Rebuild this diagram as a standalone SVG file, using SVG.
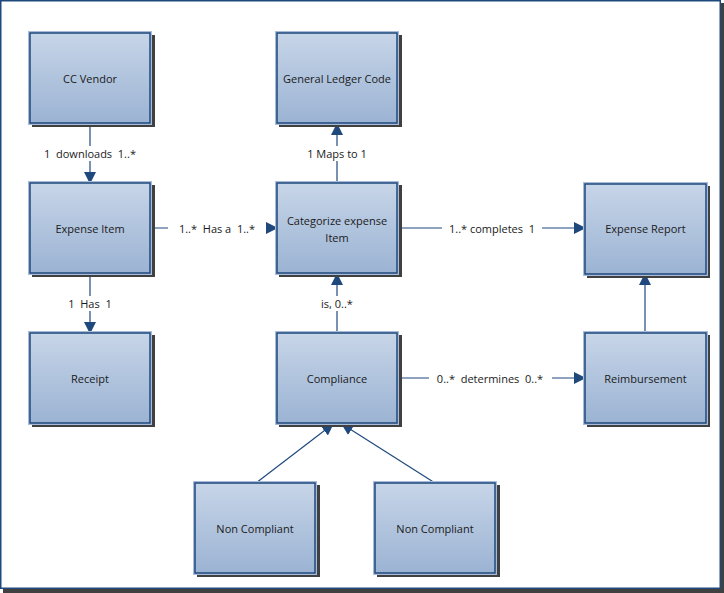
<svg xmlns="http://www.w3.org/2000/svg" width="724" height="593" viewBox="0 0 724 593">
<defs>
<linearGradient id="g" x1="0" y1="0" x2="0" y2="1">
<stop offset="0" stop-color="#c7d5e8"/>
<stop offset="1" stop-color="#9bb3d3"/>
</linearGradient>
<marker id="a" viewBox="0 0 12 12" refX="11" refY="6" markerWidth="12" markerHeight="12" markerUnits="userSpaceOnUse" orient="auto">
<path d="M0,0 L12,6 L0,12 Z" fill="#1f497d"/>
</marker>
<style>
.sh{fill:#404040}
.ol{fill:#a8bcd9}
.bx{fill:url(#g);stroke:#1f497d;stroke-width:1.5}
.t{font-family:"Open Sans","Noto Sans",sans-serif;font-size:11px;fill:#1a1a1a;text-anchor:middle;dominant-baseline:central;white-space:pre}
.c{stroke:#1f497d;stroke-width:1.2;fill:none}
.lb{fill:#ffffff}
</style>
</defs>
<rect x="0" y="0" width="724" height="593" fill="#ffffff"/>
<g id="frame">
<rect x="3" y="3" width="721" height="590" class="sh"/>
<rect x="0.75" y="0.75" width="719.5" height="587.5" fill="#ffffff" stroke="#1f497d" stroke-width="1.5"/>
</g>
<g id="connectors">
<line class="c" x1="90" y1="124" x2="90" y2="183" marker-end="url(#a)"/>
<line class="c" x1="151" y1="228" x2="277" y2="228" marker-end="url(#a)"/>
<line class="c" x1="337" y1="183" x2="337" y2="124" marker-end="url(#a)"/>
<line class="c" x1="398" y1="228" x2="585" y2="228" marker-end="url(#a)"/>
<line class="c" x1="90" y1="274" x2="90" y2="333" marker-end="url(#a)"/>
<line class="c" x1="337" y1="333" x2="337" y2="274" marker-end="url(#a)"/>
<line class="c" x1="398" y1="378" x2="585" y2="378" marker-end="url(#a)"/>
<line class="c" x1="645" y1="333" x2="645" y2="274" marker-end="url(#a)"/>
<line class="c" x1="256" y1="483" x2="333" y2="424" marker-end="url(#a)" stroke-width="1"/>
<line class="c" x1="435" y1="483" x2="342" y2="424" marker-end="url(#a)" stroke-width="1"/>
<rect class="lb" x="38" y="146" width="104" height="15"/>
<text class="t" x="90" y="153" xml:space="preserve">1  downloads  1..*</text>
<rect class="lb" x="168" y="221" width="98" height="15"/>
<text class="t" x="217" y="228" xml:space="preserve">1..*  Has a  1..*</text>
<rect class="lb" x="302" y="146" width="70" height="15"/>
<text class="t" x="337" y="153">1 Maps to 1</text>
<rect class="lb" x="442" y="221" width="100" height="15"/>
<text class="t" x="492" y="228" xml:space="preserve">1..* completes  1</text>
<rect class="lb" x="62" y="296" width="56" height="15"/>
<text class="t" x="90" y="303" xml:space="preserve">1  Has  1</text>
<rect class="lb" x="310" y="296" width="54" height="15"/>
<text class="t" x="337" y="303">is, 0..*</text>
<rect class="lb" x="429" y="371" width="123" height="15"/>
<text class="t" x="490" y="378" xml:space="preserve">0..*  determines  0..*</text>
</g>
<g id="cc-vendor">
<rect class="sh" x="32" y="35" width="123" height="92"/>
<rect class="ol" x="28" y="31" width="124" height="94"/>
<rect class="bx" x="30" y="33" width="120" height="90"/>
<text class="t" x="90" y="78">CC Vendor</text>
</g>
<g id="general-ledger-code">
<rect class="sh" x="279" y="35" width="123" height="92"/>
<rect class="ol" x="275" y="31" width="124" height="94"/>
<rect class="bx" x="277" y="33" width="120" height="90"/>
<text class="t" x="337" y="78">General Ledger Code</text>
</g>
<g id="expense-item">
<rect class="sh" x="32" y="185" width="123" height="92"/>
<rect class="ol" x="28" y="181" width="124" height="94"/>
<rect class="bx" x="30" y="183" width="120" height="90"/>
<text class="t" x="90" y="228">Expense Item</text>
</g>
<g id="categorize-expense-item">
<rect class="sh" x="279" y="185" width="123" height="92"/>
<rect class="ol" x="275" y="181" width="124" height="94"/>
<rect class="bx" x="277" y="183" width="120" height="90"/>
<text class="t" x="337" y="220">Categorize expense</text>
<text class="t" x="337" y="237">Item</text>
</g>
<g id="expense-report">
<rect class="sh" x="587" y="186" width="123" height="92"/>
<rect class="ol" x="583" y="182" width="125" height="94"/>
<rect class="bx" x="585" y="184" width="121" height="90"/>
<text class="t" x="645.5" y="228">Expense Report</text>
</g>
<g id="receipt">
<rect class="sh" x="32" y="335" width="123" height="92"/>
<rect class="ol" x="28" y="331" width="124" height="94"/>
<rect class="bx" x="30" y="333" width="120" height="90"/>
<text class="t" x="90" y="378">Receipt</text>
</g>
<g id="compliance">
<rect class="sh" x="279" y="335" width="123" height="92"/>
<rect class="ol" x="275" y="331" width="124" height="94"/>
<rect class="bx" x="277" y="333" width="120" height="90"/>
<text class="t" x="337" y="378">Compliance</text>
</g>
<g id="reimbursement">
<rect class="sh" x="587" y="335" width="123" height="92"/>
<rect class="ol" x="583" y="331" width="125" height="94"/>
<rect class="bx" x="585" y="333" width="121" height="90"/>
<text class="t" x="645.5" y="378">Reimbursement</text>
</g>
<g id="non-compliant-1">
<rect class="sh" x="197" y="485" width="123" height="92"/>
<rect class="ol" x="193" y="481" width="124" height="94"/>
<rect class="bx" x="195" y="483" width="120" height="90"/>
<text class="t" x="255" y="528">Non Compliant</text>
</g>
<g id="non-compliant-2">
<rect class="sh" x="377" y="485" width="123" height="92"/>
<rect class="ol" x="373" y="481" width="124" height="94"/>
<rect class="bx" x="375" y="483" width="120" height="90"/>
<text class="t" x="435" y="528">Non Compliant</text>
</g>
</svg>
